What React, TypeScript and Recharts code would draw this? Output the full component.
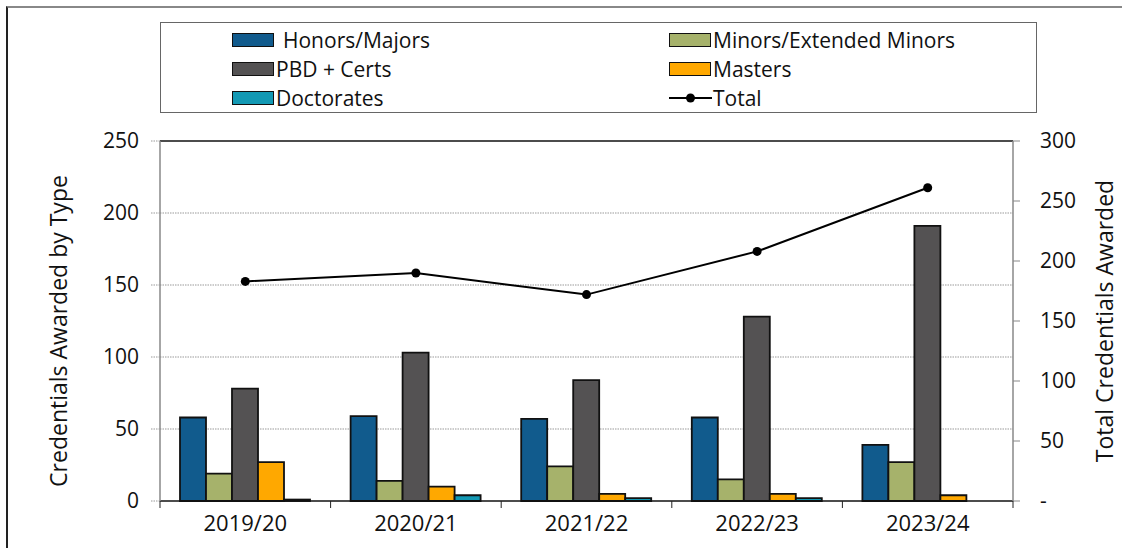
import {
  Bar,
  CartesianGrid,
  ComposedChart,
  Line,
  ReferenceLine,
  XAxis,
  YAxis,
} from "recharts"

const YEARS = ["2019/20", "2020/21", "2021/22", "2022/23", "2023/24"]
const HONORS = [58, 59, 57, 58, 39]
const MINORS = [19, 14, 24, 15, 27]
const PBD = [78, 103, 84, 128, 191]
const MASTERS = [27, 10, 5, 5, 4]
const DOCTORATES = [1, 4, 2, 2, 0]
const TOTAL = [183, 190, 172, 208, 261]

const LEFT_TICKS = [0, 50, 100, 150, 200, 250]
const RIGHT_TICKS = [0, 50, 100, 150, 200, 250, 300]

const FONT = "'Open Sans', 'Liberation Sans', sans-serif"

const BARS = [
  { key: "Honors/Majors", color: "#115B8D" },
  { key: "Minors/Extended Minors", color: "#A6B26B" },
  { key: "PBD + Certs", color: "#545253" },
  { key: "Masters", color: "#FFA800" },
  { key: "Doctorates", color: "#1399B4" },
]

const data = YEARS.map((year, i) => ({
  year,
  "Honors/Majors": HONORS[i],
  "Minors/Extended Minors": MINORS[i],
  "PBD + Certs": PBD[i],
  Masters: MASTERS[i],
  Doctorates: DOCTORATES[i],
  Total: TOTAL[i],
}))

const W = 1122
const H = 548
const PLOT_LEFT = 160
const PLOT_RIGHT = 1013
const PLOT_TOP = 141
const PLOT_BOTTOM = 501
const BAND = (PLOT_RIGHT - PLOT_LEFT) / YEARS.length

function YearTick({ x, y, payload, index }: any) {
  const half = BAND / 2
  return (
    <g>
      <line x1={x - half} y1={y - 8} x2={x - half} y2={y - 1} stroke="#222" strokeWidth={1} />
      {index === YEARS.length - 1 && (
        <line x1={x + half} y1={y - 8} x2={x + half} y2={y - 1} stroke="#222" strokeWidth={1} />
      )}
      <text x={x} y={y + 22} textAnchor="middle" fontSize={22} fontFamily={FONT} fill="#111">
        {payload.value}
      </text>
    </g>
  )
}

function AxisTitle({ cx, cy, text }: { cx: number; cy: number; text: string }) {
  return (
    <text
      x={cx}
      y={cy}
      transform={`rotate(-90 ${cx} ${cy})`}
      textAnchor="middle"
      dominantBaseline="central"
      fontSize={23}
      fontFamily={FONT}
      fill="#111"
    >
      {text}
    </text>
  )
}

function LegendBox() {
  const item = (label: string, color: string | null, extraGap = 0) => (
    <div style={{ display: "flex", alignItems: "center", height: 29 }}>
      {color ? (
        <span
          style={{
            display: "inline-block",
            width: 40,
            height: 12,
            background: color,
            border: "1.5px solid #111",
            marginRight: 2 + extraGap,
          }}
        />
      ) : (
        <svg width={43} height={14} style={{ marginRight: 1 }}>
          <line x1={0} y1={7} x2={43} y2={7} stroke="#000" strokeWidth={2} />
          <circle cx={21.5} cy={7} r={4.5} fill="#000" />
        </svg>
      )}
      <span>{label}</span>
    </div>
  )
  return (
    <div
      style={{
        position: "absolute",
        left: PLOT_LEFT,
        top: 22,
        width: 877,
        height: 91,
        border: "1.5px solid #666",
        boxSizing: "border-box",
        fontFamily: FONT,
        fontSize: 21,
        color: "#111",
        background: "#fff",
      }}
    >
      <div style={{ position: "absolute", left: 71, top: 2 }}>
        {item("Honors/Majors", BARS[0].color, 7)}
        {item("PBD + Certs", BARS[2].color)}
        {item("Doctorates", BARS[4].color)}
      </div>
      <div style={{ position: "absolute", left: 508, top: 2 }}>
        {item("Minors/Extended Minors", BARS[1].color)}
        {item("Masters", BARS[3].color)}
        {item("Total", null)}
      </div>
    </div>
  )
}

export default function App() {
  return (
    <div style={{ position: "absolute", left: 0, top: 0, width: W, height: H, background: "#fff" }}>
      <ComposedChart
        width={W}
        height={H}
        data={data}
        margin={{
          top: PLOT_TOP,
          right: W - PLOT_RIGHT - 70,
          bottom: H - PLOT_BOTTOM - 30,
          left: PLOT_LEFT - 70,
        }}
        barCategoryGap={20}
        barGap={0}
        style={{ position: "absolute", left: 0, top: 0 }}
      >
        <CartesianGrid
          yAxisId="left"
          vertical={false}
          stroke="#999"
          strokeDasharray="1.5 1"
          horizontalValues={[50, 100, 150, 200]}
        />
        <XAxis
          dataKey="year"
          height={30}
          axisLine={{ stroke: "#111", strokeWidth: 1.5 }}
          tickLine={false}
          tick={<YearTick />}
          interval={0}
        />
        <YAxis
          yAxisId="left"
          width={70}
          domain={[0, 250]}
          ticks={LEFT_TICKS}
          interval={0}
          axisLine={{ stroke: "#888", strokeWidth: 1.5 }}
          tickLine={{ stroke: "#999", strokeDasharray: "1.5 1" }}
          tickSize={9}
          tickMargin={12}
          tick={{ fontSize: 21, fontFamily: FONT, fill: "#111" }}
          label={{ content: () => <AxisTitle cx={58} cy={331} text="Credentials Awarded by Type" /> }}
        />
        <YAxis
          yAxisId="right"
          orientation="right"
          width={70}
          domain={[0, 300]}
          ticks={RIGHT_TICKS}
          interval={0}
          axisLine={{ stroke: "#888", strokeWidth: 1.5 }}
          tickLine={{ stroke: "#888" }}
          tickSize={7}
          tickMargin={20}
          tickFormatter={(v: number) => (v === 0 ? "-" : String(v))}
          tick={{ fontSize: 21, fontFamily: FONT, fill: "#111", textAnchor: "start" }}
          label={{ content: () => <AxisTitle cx={1104} cy={321} text="Total Credentials Awarded" /> }}
        />
        <ReferenceLine yAxisId="left" y={250} stroke="#111" strokeWidth={1.5} />
        {BARS.map((b) => (
          <Bar
            key={b.key}
            yAxisId="left"
            dataKey={b.key}
            fill={b.color}
            stroke="#111"
            strokeWidth={1.8}
            isAnimationActive={false}
          />
        ))}
        <Line
          yAxisId="right"
          dataKey="Total"
          stroke="#000"
          strokeWidth={2}
          dot={{ r: 4.5, fill: "#000", stroke: "#000", strokeWidth: 0 }}
          activeDot={false}
          isAnimationActive={false}
        />
      </ComposedChart>
      <div
        style={{
          position: "absolute",
          left: 6,
          top: 6,
          right: 0,
          bottom: 0,
          borderTop: "2px solid #888",
          borderLeft: "2px solid #222",
          pointerEvents: "none",
        }}
      />
      <LegendBox />
    </div>
  )
}
